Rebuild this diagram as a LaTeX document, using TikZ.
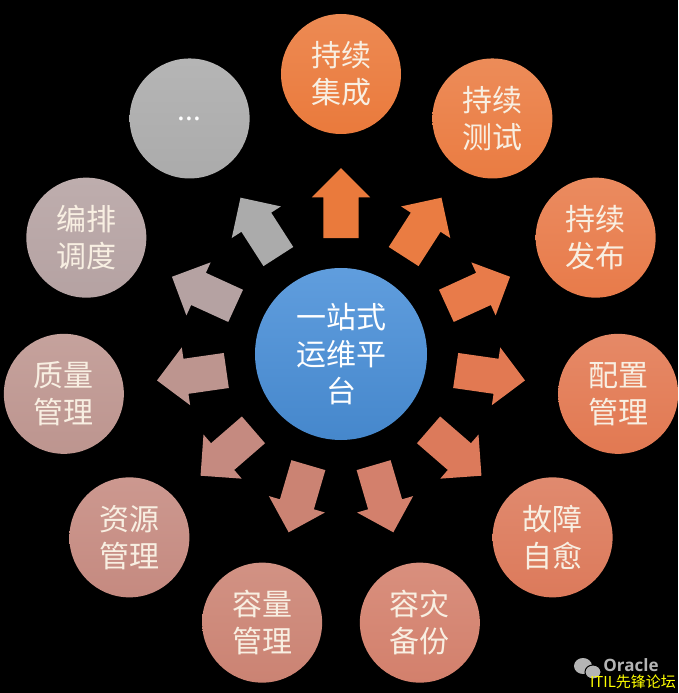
\documentclass[tikz,border=0pt]{standalone}
\usepackage{fontspec}
\setmainfont{Noto Sans CJK SC}
\newfontfamily\wmfont{Open Sans}
\usetikzlibrary{shapes.arrows,calc}
\definecolor{hubblue}{HTML}{4A90D9}
\definecolor{ink}{HTML}{F8EFE2}
\definecolor{cJC}{HTML}{EA7A3C}
\definecolor{cCS}{HTML}{EA7C42}
\definecolor{cFB}{HTML}{E87B4A}
\definecolor{cPZ}{HTML}{E27952}
\definecolor{cGZ}{HTML}{DC7A5B}
\definecolor{cZB}{HTML}{D3806C}
\definecolor{cRL}{HTML}{CB8373}
\definecolor{cZY}{HTML}{C58A80}
\definecolor{cZL}{HTML}{BD958F}
\definecolor{cBP}{HTML}{B5A2A2}
\definecolor{cMore}{HTML}{ABABAB}
\definecolor{wmgrey}{HTML}{B4B4B4}
\definecolor{wmyellow}{HTML}{FFFF00}

\begin{document}
\begin{tikzpicture}[x=1pt,y=1pt,
  font=\fontsize{30}{37}\selectfont,
  hub/.style={circle,minimum size=172pt,inner sep=0pt,top color=hubblue!88!white,
              bottom color=hubblue!94!black,text=white,align=center},
  item/.style={circle,minimum size=120pt,inner sep=0pt,top color=#1!88!white,
               bottom color=#1,text=ink,align=center},
  blk/.style={single arrow,single arrow head extend=11.5pt,minimum height=70pt,
              inner xsep=0pt,inner ysep=17.5pt,fill=#1}]
\fill[black] (-341,-339) rectangle (337,354);
\node[hub] (hub) at (0,0) {一站式\\运维平\\台};
\node[item=cJC] (jc) at (90:280) {持续\\集成};
\node[item=cCS] (cs) at (57.27:280) {持续\\测试};
\node[item=cFB] (fb) at (24.55:280) {持续\\发布};
\node[item=cPZ] (pz) at (-8.18:280) {配置\\管理};
\node[item=cGZ] (gz) at (-40.91:280) {故障\\自愈};
\node[item=cZB] (zb) at (-73.64:280) {容灾\\备份};
\node[item=cRL] (rl) at (-106.36:280) {容量\\管理};
\node[item=cZY] (zy) at (-139.09:280) {资源\\管理};
\node[item=cZL] (zl) at (-171.82:280) {质量\\管理};
\node[item=cBP] (bp) at (155.45:280) {编排\\调度};
\node[item=cMore,text=white] (more) at (122.73:280) {\fontsize{28}{28}\selectfont ...};
% arrows from the hub towards each item
\node[blk=cJC,rotate=90] (ajc) at ($(hub)!142pt!(jc)$) {};
\node[blk=cCS,rotate=57.27] (acs) at ($(hub)!142pt!(cs)$) {};
\node[blk=cFB,rotate=24.55] (afb) at ($(hub)!142pt!(fb)$) {};
\node[blk=cPZ,rotate=-8.18] (apz) at ($(hub)!142pt!(pz)$) {};
\node[blk=cGZ,rotate=-40.91] (agz) at ($(hub)!142pt!(gz)$) {};
\node[blk=cZB,rotate=-73.64] (azb) at ($(hub)!142pt!(zb)$) {};
\node[blk=cRL,rotate=-106.36] (arl) at ($(hub)!142pt!(rl)$) {};
\node[blk=cZY,rotate=-139.09] (azy) at ($(hub)!142pt!(zy)$) {};
\node[blk=cZL,rotate=-171.82] (azl) at ($(hub)!142pt!(zl)$) {};
\node[blk=cBP,rotate=155.45] (abp) at ($(hub)!142pt!(bp)$) {};
\node[blk=cMore,rotate=122.73] (amore) at ($(hub)!142pt!(more)$) {};
% watermark
\fill[wmgrey] (242,-312) ellipse (9 and 8);
\fill[wmgrey,draw=black,line width=1pt] (252,-318) ellipse (8 and 7);
\node[text=wmgrey,font=\wmfont\bfseries\fontsize{17}{17}\selectfont,inner sep=0pt] (oracle) at (290,-311) {Oracle};
\node[text=wmyellow,font=\fontsize{15}{15}\selectfont,inner sep=0pt] (itil) at (292,-328) {ITIL先锋论坛};
\end{tikzpicture}
\end{document}
